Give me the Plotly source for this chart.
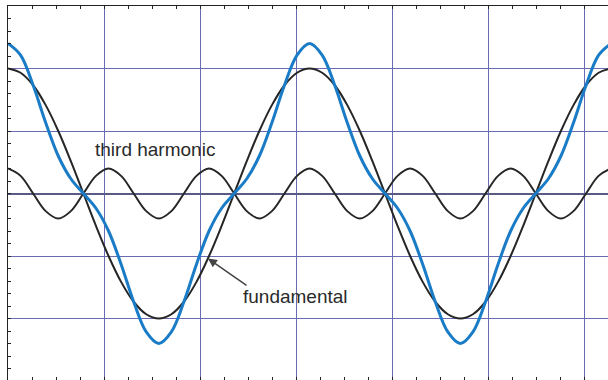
import plotly.graph_objects as go

# sample positions along the x axis (axis units; one grid division = 1)
x_vals = [0, 0.1309, 0.2618, 0.3927, 0.5236, 0.6545, 0.7854, 0.9163, 1.0472, 1.1781,
          1.3090, 1.4399, 1.5708, 1.7017, 1.8326, 1.9635, 2.0944, 2.2253, 2.3562, 2.4871,
          2.6180, 2.7489, 2.8798, 3.0107, 3.1416, 3.2725, 3.4034, 3.5343, 3.6652, 3.7961,
          3.9270, 4.0579, 4.1888, 4.3197, 4.4506, 4.5815, 4.7124, 4.8433, 4.9742, 5.1051,
          5.2360, 5.3669, 5.4978, 5.6287, 5.7596, 5.8905, 6.0214, 6.1523, 6.2832]

fundamental = [1, 0.966, 0.866, 0.707, 0.5, 0.259, 0, -0.259, -0.5, -0.707, -0.866, -0.966,
               -1, -0.966, -0.866, -0.707, -0.5, -0.259, 0, 0.259, 0.5, 0.707, 0.866, 0.966,
               1, 0.966, 0.866, 0.707, 0.5, 0.259, 0, -0.259, -0.5, -0.707, -0.866, -0.966,
               -1, -0.966, -0.866, -0.707, -0.5, -0.259, 0, 0.259, 0.5, 0.707, 0.866, 0.966, 1]

third_harmonic = [0.2, 0.141, 0, -0.141, -0.2, -0.141, 0, 0.141,
                  0.2, 0.141, 0, -0.141, -0.2, -0.141, 0, 0.141,
                  0.2, 0.141, 0, -0.141, -0.2, -0.141, 0, 0.141,
                  0.2, 0.141, 0, -0.141, -0.2, -0.141, 0, 0.141,
                  0.2, 0.141, 0, -0.141, -0.2, -0.141, 0, 0.141,
                  0.2, 0.141, 0, -0.141, -0.2, -0.141, 0, 0.141, 0.2]

resultant = [1.2, 1.107, 0.866, 0.566, 0.3, 0.118, 0, -0.118, -0.3, -0.566, -0.866, -1.107,
             -1.2, -1.107, -0.866, -0.566, -0.3, -0.118, 0, 0.118, 0.3, 0.566, 0.866, 1.107,
             1.2, 1.107, 0.866, 0.566, 0.3, 0.118, 0, -0.118, -0.3, -0.566, -0.866, -1.107,
             -1.2, -1.107, -0.866, -0.566, -0.3, -0.118, 0, 0.118, 0.3, 0.566, 0.866, 1.107, 1.2]

label_third = "third harmonic"
label_fund = "fundamental"

GRID = "#6a6ab2"
AXIS = "#222222"
FONT = "Liberation Sans, Arial, sans-serif"

fig = go.Figure()
fig.add_trace(go.Scatter(x=x_vals, y=third_harmonic, mode="lines",
                         line=dict(color="#262626", width=2, shape="spline", smoothing=1),
                         hoverinfo="skip", showlegend=False))
fig.add_trace(go.Scatter(x=x_vals, y=fundamental, mode="lines",
                         line=dict(color="#262626", width=2, shape="spline", smoothing=1),
                         hoverinfo="skip", showlegend=False))
fig.add_trace(go.Scatter(x=x_vals, y=resultant, mode="lines",
                         line=dict(color="#1a7cc6", width=3, shape="spline", smoothing=1),
                         hoverinfo="skip", showlegend=False))

fig.add_annotation(x=1.53, y=0.352, xref="x", yref="y", text=label_third, showarrow=False,
                   font=dict(family=FONT, size=19, color="#2a2a2a"))
fig.add_annotation(x=2.99, y=-0.824, xref="x", yref="y", text=label_fund, showarrow=False,
                   font=dict(family=FONT, size=19, color="#2a2a2a"))
fig.add_annotation(x=2.083, y=-0.52, xref="x", yref="y", ax=2.5, ay=-0.744,
                   axref="x", ayref="y", text="", showarrow=True,
                   arrowhead=2, arrowsize=1.2, arrowwidth=1.5, arrowcolor="#444444")

fig.update_layout(
    width=608, height=380,
    margin=dict(l=8, r=0, t=6, b=0),
    paper_bgcolor="white", plot_bgcolor="white",
    showlegend=False,
    xaxis=dict(range=[0, 6.25], dtick=1, tick0=0, showgrid=True, gridcolor=GRID, gridwidth=1,
               zeroline=False, showline=True, linecolor=AXIS, linewidth=1.5,
               mirror="allticks", ticks="inside", ticklen=3, tickcolor=AXIS, tickwidth=1,
               showticklabels=False,
               minor=dict(dtick=0.25, ticks="inside", ticklen=3, tickcolor=AXIS, tickwidth=1,
                          showgrid=False)),
    yaxis=dict(range=[-1.492, 1.5], dtick=0.5, tick0=0, showgrid=True, gridcolor=GRID, gridwidth=1,
               zeroline=True, zerolinecolor="#5a5a86", zerolinewidth=2,
               showline=True, linecolor=AXIS, linewidth=1.5, mirror=False,
               ticks="inside", ticklen=3, tickcolor=AXIS, tickwidth=1, showticklabels=False,
               minor=dict(dtick=0.1, ticks="inside", ticklen=3, tickcolor=AXIS, tickwidth=1,
                          showgrid=False)),
)

fig.write_html("out.html",
               config={"displayModeBar": False, "staticPlot": True},
               post_script="document.body.style.margin='0';document.body.style.overflow='hidden';")
